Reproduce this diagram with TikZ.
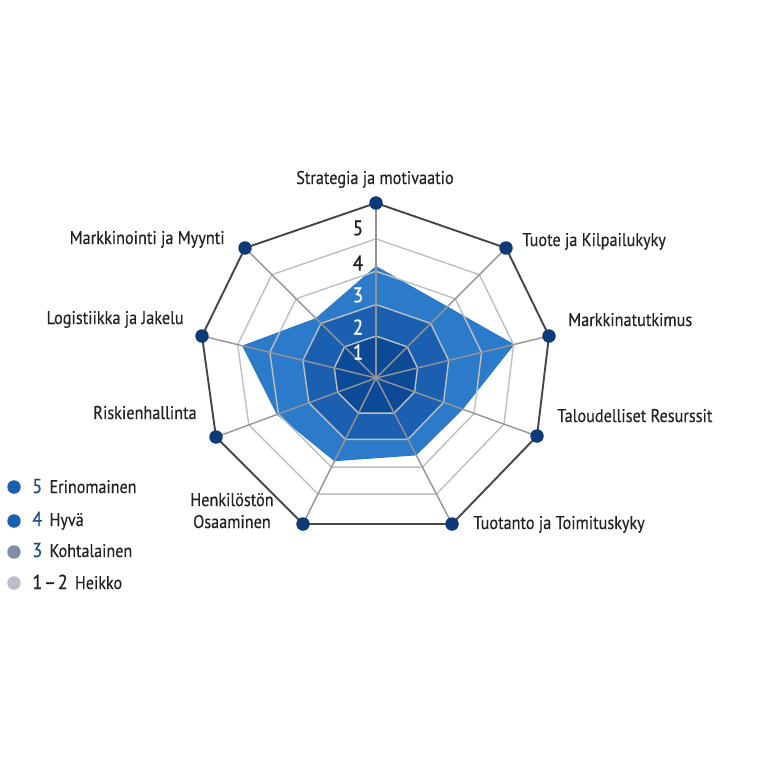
\documentclass[tikz,border=0pt]{standalone}
\usepackage{fontspec}
\setmainfont[FakeStretch=0.88,FakeBold=0.3]{PT Sans}
\newfontfamily\numfont[FakeStretch=0.9,FakeBold=0.6]{PT Sans}
\usetikzlibrary{calc}
\definecolor{navy}{HTML}{0D3A78}
\definecolor{datablue}{HTML}{2C7BCB}
\definecolor{midblue}{HTML}{1A5FB0}
\definecolor{deepblue}{HTML}{0C4A98}
\definecolor{numblue}{HTML}{1D4F91}
\definecolor{greyblue}{HTML}{7E8FA6}
\definecolor{lightgrey}{HTML}{B8BFC8}
\definecolor{txt}{HTML}{222222}
\tikzset{
  ring/.style={line width=0.8pt, color=black!25},
  spoke/.style={line width=0.8pt, color=black!42},
  outer/.style={line width=1.1pt, color=black!72},
  dot/.style={circle, fill=navy, minimum size=0.27cm, inner sep=0pt},
  lbl/.style={inner sep=0pt, text=txt, font=\fontsize{10.5pt}{12.5pt}\selectfont},
  num/.style={inner sep=0pt, font=\numfont\fontsize{12pt}{14pt}\selectfont},
  leg/.style={inner sep=0pt, text=txt, font=\fontsize{10.4pt}{12pt}\selectfont}
}
\begin{document}
\begin{tikzpicture}[x=0.02cm,y=-0.02cm]
\useasboundingbox (0,0) rectangle (768,768);
\coordinate (c) at (376,378);
\coordinate (a1) at (376,203);
\coordinate (a2) at (506,248);
\coordinate (a3) at (549,336);
\coordinate (a4) at (537,436);
\coordinate (a5) at (452,524);
\coordinate (a6) at (303,524);
\coordinate (a7) at (216,437);
\coordinate (a8) at (202,336);
\coordinate (a9) at (245,248);
\fill[datablue] ($(c)!0.64!(a1)$) \foreach \i/\v in {2/0.55,3/0.80,4/0.54,5/0.53,6/0.57,7/0.62,8/0.77,9/0.46}{ -- ($(c)!\v!(a\i)$) } -- cycle;
\fill[midblue] ($(c)!0.42!(a1)$) \foreach \i in {2,...,9}{ -- ($(c)!0.42!(a\i)$) } -- cycle;
\fill[deepblue] ($(c)!0.24!(a1)$) \foreach \i in {2,...,9}{ -- ($(c)!0.24!(a\i)$) } -- cycle;
\foreach \f in {0.24,0.42,0.61,0.795}{
  \draw[ring] ($(c)!\f!(a1)$) \foreach \i in {2,...,9}{ -- ($(c)!\f!(a\i)$) } -- cycle;
}
\foreach \i in {1,...,9}{
  \draw[spoke] (c) -- (a\i);
}
\draw[outer] (a1) \foreach \i in {2,...,9}{ -- (a\i) } -- cycle;
\foreach \i in {1,...,9}{
  \node[dot] (d\i) at (a\i) {};
}
\foreach \n/\y in {1/352,2/327,3/295}{
  \node[num, text=white] (n\n) at (358,\y) {\n};
}
\foreach \n/\y in {4/263,5/228}{
  \node[num, text=txt] (n\n) at (358,\y) {\n};
}
\node[lbl, anchor=base] (l1) at (375,184) {Strategia ja motivaatio};
\node[lbl, anchor=base west] (l2) at (522,246) {Tuote ja Kilpailukyky};
\node[lbl, anchor=base west] (l3) at (568,326) {Markkinatutkimus};
\node[lbl, anchor=base west] (l4) at (557,422) {Taloudelliset Resurssit};
\node[lbl, anchor=base west] (l5) at (473,529) {Tuotanto ja Toimituskyky};
\node[lbl, anchor=base, align=center] (l6) at (232,528) {Henkilöstön\\Osaaminen};
\node[lbl, anchor=base east] (l7) at (197,419) {Riskienhallinta};
\node[lbl, anchor=base east] (l8) at (184,324) {Logistiikka ja Jakelu};
\node[lbl, anchor=base east] (l9) at (225,244) {Markkinointi ja Myynti};
\node[dot, fill=midblue] (k5) at (14,487) {};
\node[dot, fill=midblue] (k4) at (14,521) {};
\node[dot, fill=greyblue] (k3) at (14,552) {};
\node[dot, fill=lightgrey] (k2) at (14,583) {};
\node[leg, anchor=base west] (t5) at (32,493) {{\numfont\fontsize{11.5pt}{12pt}\selectfont\textcolor{numblue}{5}}\, Erinomainen};
\node[leg, anchor=base west] (t4) at (32,526) {{\numfont\fontsize{11.5pt}{12pt}\selectfont\textcolor{numblue}{4}}\, Hyvä};
\node[leg, anchor=base west] (t3) at (32,557) {{\numfont\fontsize{11.5pt}{12pt}\selectfont\textcolor{numblue}{3}}\, Kohtalainen};
\node[leg, anchor=base west] (t2) at (32,589) {{\numfont\fontsize{11.5pt}{12pt}\selectfont 1\kern1pt–\kern1pt2}\, Heikko};
\end{tikzpicture}
\end{document}
